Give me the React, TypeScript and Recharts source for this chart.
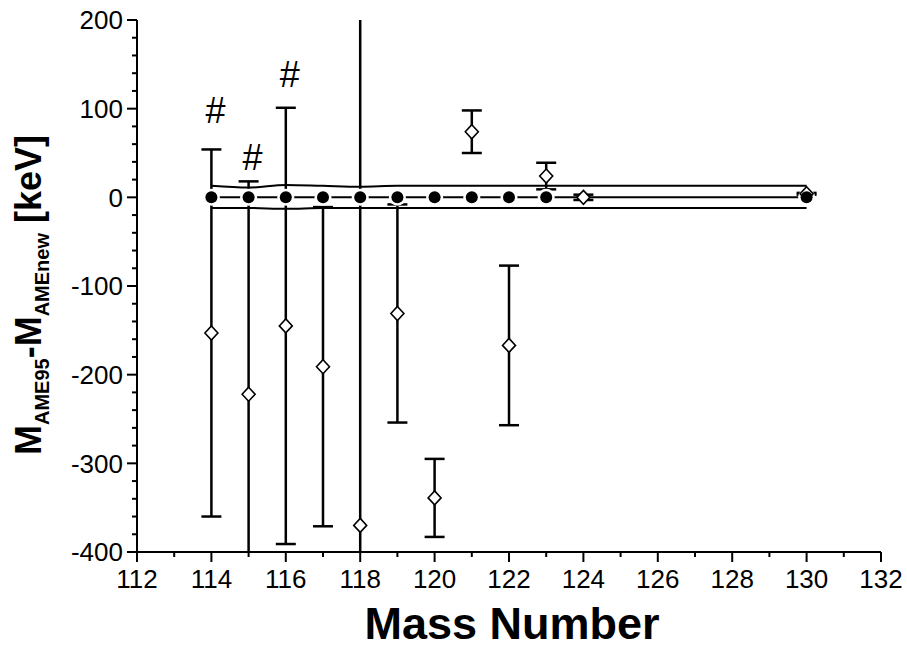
import React from 'react';
import { ComposedChart, Line, Scatter, XAxis, YAxis, ErrorBar } from 'recharts';

// AME95 - AMEnew differences (open diamonds) with uncertainties
const massNumbers = [114, 115, 116, 117, 118, 119, 120, 121, 122, 123, 124, 130];
const ame95Diff = [-153, -222, -145, -191, -370, -131, -339, 74, -167, 24, 0, 4];
const ame95Err = [207, 240, 246, 180, 600, 123, 44, 24, 90, 15, 3, 1];

// reference points (filled circles) on zero
const refMasses = [114, 115, 116, 117, 118, 119, 120, 121, 122, 123, 130];
const refValues = [0, 0, 0, 0, 0, 0, 0, 0, 0, 0, 0];

// uncertainty band of new evaluation
const bandMasses = [114, 115, 116, 117, 118, 119, 120, 121, 122, 123, 124, 130];
const bandUpper = [13, 11, 14, 13, 12, 13, 13, 13, 13, 13, 13, 13];
const bandLower = [-12, -12, -13, -12, -12, -12, -12, -12, -12, -12, -12, -12];

// "#" annotations
const hashMasses = [114, 115, 116];
const hashLevels = [98, 45, 139];
const hashText = ['#', '#', '#'];

// axis ticks
const xTicks = [112, 113, 114, 115, 116, 117, 118, 119, 120, 121, 122, 123, 124, 125, 126, 127, 128, 129, 130, 131, 132];
const xLabelTicks = [112, 114, 116, 118, 120, 122, 124, 126, 128, 130, 132];
const yTicks = [-400, -380, -360, -340, -320, -300, -280, -260, -240, -220, -200, -180, -160, -140, -120, -100, -80, -60, -40, -20, 0, 20, 40, 60, 80, 100, 120, 140, 160, 180, 200];
const yLabelTicks = [-400, -300, -200, -100, 0, 100, 200];

const diffData = massNumbers.map((m, i) => ({ x: m, y: ame95Diff[i], err: ame95Err[i] }));
const refData = refMasses.map((m, i) => ({ x: m, y: refValues[i] }));
const bandData = bandMasses.map((m, i) => ({ x: m, upper: bandUpper[i], lower: bandLower[i] }));
const hashData = hashMasses.map((m, i) => ({ x: m, y: hashLevels[i], t: hashText[i] }));

const FONT = '"Liberation Sans", Arial, Helvetica, sans-serif';

// plot-area geometry (layout)
const W = 907;
const H = 648;
const M_TOP = 20;
const M_RIGHT = 26;
const Y_W = 137;
const X_H = 96;

const XTick = (props: any) => {
  const { x, y, payload } = props;
  const major = xLabelTicks.includes(payload.value);
  return (
    <g>
      <line x1={x} y1={y} x2={x} y2={y + (major ? 10 : 5)} stroke="#000" strokeWidth={2} />
      {major && (
        <text x={x} y={y + 36} textAnchor="middle" fontSize={26} fontFamily={FONT} fill="#000">
          {payload.value}
        </text>
      )}
    </g>
  );
};

const YTick = (props: any) => {
  const { x, y, payload } = props;
  const major = yLabelTicks.includes(payload.value);
  return (
    <g>
      <line x1={x - (major ? 10 : 5)} y1={y} x2={x} y2={y} stroke="#000" strokeWidth={2} />
      {major && (
        <text x={x - 14} y={y} dy="0.36em" textAnchor="end" fontSize={26} fontFamily={FONT} fill="#000">
          {payload.value}
        </text>
      )}
    </g>
  );
};

const Diamond = (props: any) => {
  const { cx, cy } = props;
  if (cx == null || cy == null) return <g />;
  const r = 7;
  return (
    <polygon
      points={`${cx},${cy - r} ${cx + r - 0.5},${cy} ${cx},${cy + r} ${cx - r + 0.5},${cy}`}
      fill="#fff"
      stroke="#000"
      strokeWidth={1.6}
    />
  );
};

const FilledCircle = (props: any) => {
  const { cx, cy } = props;
  if (cx == null || cy == null) return <g />;
  return <circle cx={cx} cy={cy} r={6} fill="#000" />;
};

const Halo = (props: any) => {
  const { cx, cy, index } = props;
  if (cx == null || cy == null) return <g key={`h${index}`} />;
  return <circle key={`h${index}`} cx={cx} cy={cy} r={8.5} fill="#fff" stroke="none" />;
};

const HashMark = (props: any) => {
  const { cx, cy, payload } = props;
  if (cx == null || cy == null) return <g />;
  return (
    <text x={cx + 4} y={cy} dy="0.36em" textAnchor="middle" fontSize={36} fontFamily={FONT} fill="#000">
      {payload.t}
    </text>
  );
};

const YTitle = () => (
  <text
    x={41}
    y={295}
    transform="rotate(-90, 41, 295)"
    textAnchor="middle"
    fontFamily={FONT}
    fontWeight="bold"
    fontSize={36}
    fill="#000"
    style={{ whiteSpace: 'pre' }}
  >
    <tspan>M</tspan>
    <tspan fontSize={20} dy={8}>AME95</tspan>
    <tspan fontSize={36} dy={-8}>-M</tspan>
    <tspan fontSize={20} dy={8}>AMEnew</tspan>
    <tspan fontSize={36} dy={-8}>{' [keV]'}</tspan>
  </text>
);

const XTitle = () => (
  <text x={512} y={639} textAnchor="middle" fontFamily={FONT} fontWeight="bold" fontSize={45} fill="#000">
    Mass Number
  </text>
);

export default function App() {
  return (
    <div style={{ position: 'absolute', left: 0, top: 0, width: W, height: H, background: '#fff' }}>
      <style>{`[class*="recharts-errorBar"] { clip-path: url(#plot-area-clip); }`}</style>
      <svg width={0} height={0} style={{ position: 'absolute' }}>
        <defs>
          <clipPath id="plot-area-clip" clipPathUnits="userSpaceOnUse">
            <rect x={Y_W} y={M_TOP} width={W - Y_W - M_RIGHT} height={H - M_TOP - X_H} />
          </clipPath>
        </defs>
      </svg>
      <ComposedChart width={W} height={H} margin={{ top: M_TOP, right: M_RIGHT, left: 0, bottom: 0 }}>
        <XAxis
          dataKey="x"
          type="number"
          domain={[112, 132]}
          allowDataOverflow
          ticks={xTicks}
          interval={0}
          tick={<XTick />}
          tickLine={false}
          tickSize={0}
          tickMargin={0}
          height={X_H}
          axisLine={{ stroke: '#000', strokeWidth: 2 }}
          label={() => <XTitle />}
        />
        <YAxis
          type="number"
          domain={[-400, 200]}
          allowDataOverflow
          ticks={yTicks}
          interval={0}
          tick={<YTick />}
          tickLine={false}
          tickSize={0}
          tickMargin={0}
          width={Y_W}
          axisLine={{ stroke: '#000', strokeWidth: 2 }}
          label={() => <YTitle />}
        />
        <Line
          data={bandData}
          dataKey="upper"
          type="monotone"
          stroke="#000"
          strokeWidth={2}
          dot={false}
          activeDot={false}
          isAnimationActive={false}
        />
        <Line
          data={bandData}
          dataKey="lower"
          type="monotone"
          stroke="#000"
          strokeWidth={2}
          dot={false}
          activeDot={false}
          isAnimationActive={false}
        />
        <Line
          data={refData}
          dataKey="y"
          type="linear"
          stroke="#000"
          strokeWidth={2}
          dot={<Halo />}
          activeDot={false}
          isAnimationActive={false}
        />
        <Scatter data={diffData} dataKey="y" shape={<Diamond />} isAnimationActive={false}>
          <ErrorBar dataKey="err" direction="y" width={10} stroke="#000" strokeWidth={2.5} isAnimationActive={false} />
        </Scatter>
        <Scatter data={refData} dataKey="y" shape={<FilledCircle />} isAnimationActive={false} />
        <Scatter data={hashData} dataKey="y" shape={<HashMark />} isAnimationActive={false} />
      </ComposedChart>
    </div>
  );
}
